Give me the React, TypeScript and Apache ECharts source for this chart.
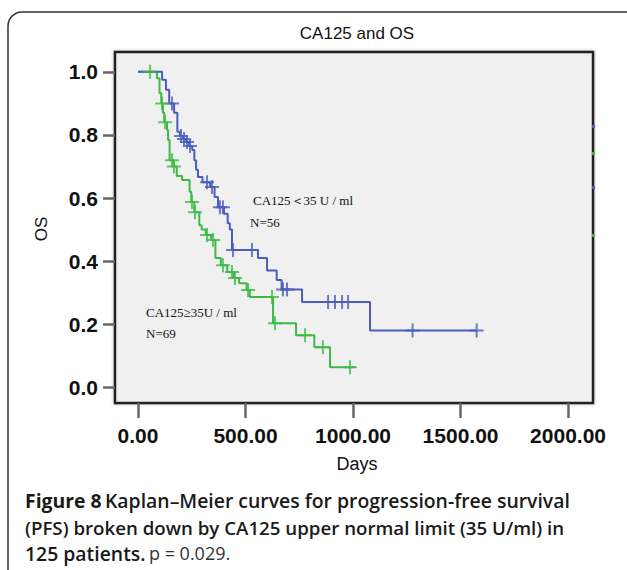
import React, { useEffect, useRef } from "react";
import * as echarts from "echarts";

// Kaplan–Meier step data: time (days) at which survival changes, and survival after the step
const blueT = [0, 112, 130, 145, 168, 183, 195, 210, 224, 238, 252, 262, 270, 279, 300, 335, 356, 372, 400, 417, 427, 437, 558, 600, 645, 668, 763, 1079, 1575];
const blueS = [1, 0.975, 0.943, 0.9, 0.87, 0.81, 0.797, 0.787, 0.778, 0.765, 0.752, 0.72, 0.69, 0.667, 0.65, 0.635, 0.603, 0.571, 0.55, 0.52, 0.5, 0.435, 0.41, 0.37, 0.34, 0.31, 0.27, 0.18, 0.18];
const blueCensorT = [158, 200, 214, 228, 242, 321, 344, 381, 395, 442, 530, 674, 693, 884, 916, 949, 977, 1277, 1575];

const greenT = [0, 88, 100, 108, 116, 122, 135, 140, 147, 165, 180, 205, 240, 248, 262, 285, 296, 315, 340, 360, 385, 415, 445, 470, 505, 520, 628, 735, 820, 893, 1009];
const greenS = [1, 0.98, 0.933, 0.9, 0.87, 0.84, 0.816, 0.784, 0.72, 0.7, 0.67, 0.657, 0.62, 0.587, 0.555, 0.514, 0.5, 0.483, 0.467, 0.41, 0.387, 0.365, 0.346, 0.33, 0.308, 0.286, 0.203, 0.165, 0.127, 0.063, 0.063];
const greenCensorT = [56, 112, 126, 158, 167, 251, 265, 321, 349, 395, 437, 451, 512, 623, 637, 777, 860, 986];

const seriesNames = ["CA125＜35 U / ml", "CA125≥35U / ml"];
const groupN = ["N=56", "N=69"];
const xTicks = [0, 500, 1000, 1500, 2000];
const yTicks = [0, 0.2, 0.4, 0.6, 0.8, 1.0];
const xRange = [-107, 2116];
const yRange = [-0.05, 1.063];

const BLUE = "#4a5cbd";
const GREEN = "#3dba45";
const CROSS = "path://M0,6H14V8H0Z M6,0H8V14H6Z";

function survivalAt(ts: number[], ss: number[], t: number) {
  let s = ss[0];
  for (let i = 0; i < ts.length; i++) if (ts[i] <= t) s = ss[i];
  return s;
}

export default function App() {
  const ref = useRef<HTMLDivElement>(null);
  useEffect(() => {
    const chart = echarts.init(ref.current!, null, { renderer: "svg" });
    const blueLine = blueT.map((t, i) => [t, blueS[i]]);
    const greenLine = greenT.map((t, i) => [t, greenS[i]]);
    const blueC = blueCensorT.map((t) => [t, survivalAt(blueT, blueS, t)]);
    const greenC = greenCensorT.map((t) => [t, survivalAt(greenT, greenS, t)]);
    const sans = "Liberation Sans, Arial, sans-serif";
    const serif = "Liberation Serif, Times New Roman, serif";
    const cap = "Open Sans, sans-serif";
    const capBold = { fontFamily: cap, fontSize: 19.4, fontWeight: 700, fill: "#1a1a1a" };
    const capSemi = { fontFamily: cap, fontSize: 19.4, fontWeight: 600, fill: "#1a1a1a" };
    const capSemi2 = { fontFamily: cap, fontSize: 18.7, fontWeight: 600, fill: "#1a1a1a" };
    chart.setOption({
      animation: false,
      backgroundColor: "#ffffff",
      grid: {
        left: 115,
        top: 52,
        width: 478,
        height: 351,
        containLabel: false,
        show: true,
        backgroundColor: "#f0f0f0",
        borderColor: "#222",
        borderWidth: 2.5,
        shadowBlur: 3,
        shadowColor: "rgba(0,0,0,0.35)",
      },
      xAxis: {
        type: "value",
        min: xRange[0],
        max: xRange[1],
        position: "bottom",
        axisLine: { show: false, onZero: false },
        splitLine: { show: false },
        axisTick: { show: true, length: 15, customValues: xTicks, lineStyle: { color: "#666", width: 2.5 } },
        axisLabel: {
          margin: 22,
          customValues: xTicks,
          fontFamily: sans,
          fontWeight: "bold",
          fontSize: 21,
          color: "#111",
          formatter: (v: number) => v.toFixed(2),
        },
      },
      yAxis: {
        type: "value",
        min: yRange[0],
        max: yRange[1],
        position: "left",
        axisLine: { show: false, onZero: false },
        splitLine: { show: false },
        axisTick: { show: true, length: 12, customValues: yTicks, lineStyle: { color: "#666", width: 2.5 } },
        axisLabel: {
          margin: 17,
          customValues: yTicks,
          fontFamily: sans,
          fontWeight: "bold",
          fontSize: 21,
          color: "#111",
          formatter: (v: number) => v.toFixed(1),
        },
      },
      series: [
        {
          name: seriesNames[0],
          type: "line",
          step: "end",
          data: blueLine,
          showSymbol: false,
          clip: false,
          lineStyle: { color: BLUE, width: 2 },
          z: 5,
        },
        {
          name: seriesNames[1],
          type: "line",
          step: "end",
          data: greenLine,
          showSymbol: false,
          clip: false,
          lineStyle: { color: GREEN, width: 2 },
          z: 4,
        },
        {
          type: "scatter",
          data: blueC,
          symbol: CROSS,
          symbolSize: [14, 14],
          clip: false,
          itemStyle: { color: BLUE },
          z: 6,
        },
        {
          type: "scatter",
          data: greenC,
          symbol: CROSS,
          symbolSize: [14, 14],
          clip: false,
          itemStyle: { color: GREEN },
          z: 6,
        },
      ],
      graphic: [
        {
          type: "rect",
          z: -10,
          shape: { x: 8, y: 12, width: 640, height: 620, r: 14 },
          style: { fill: "none", stroke: "#333", lineWidth: 1.5 },
        },
        { type: "rect", z: 10, shape: { x: 592, y: 125, width: 3, height: 3 }, style: { fill: BLUE } },
        { type: "rect", z: 10, shape: { x: 592, y: 152, width: 3, height: 3 }, style: { fill: GREEN } },
        { type: "rect", z: 10, shape: { x: 592, y: 186, width: 3, height: 3 }, style: { fill: BLUE } },
        { type: "rect", z: 10, shape: { x: 592, y: 234, width: 3, height: 3 }, style: { fill: GREEN } },
        {
          type: "text",
          z: 10,
          style: { text: "CA125 and OS", x: 357, y: 33, align: "center", verticalAlign: "middle", fontFamily: sans, fontSize: 17, fill: "#111" },
        },
        {
          type: "text",
          z: 10,
          x: 41,
          y: 229,
          rotation: Math.PI / 2,
          style: { text: "OS", x: 0, y: 0, align: "center", verticalAlign: "middle", fontFamily: sans, fontSize: 17, fill: "#111" },
        },
        {
          type: "text",
          z: 10,
          style: { text: "Days", x: 357, y: 464, align: "center", verticalAlign: "middle", fontFamily: sans, fontSize: 18, fill: "#111" },
        },
        {
          type: "text",
          z: 10,
          style: { text: seriesNames[0], x: 253, y: 200, align: "left", verticalAlign: "middle", fontFamily: serif, fontSize: 13, fill: "#111" },
        },
        {
          type: "text",
          z: 10,
          style: { text: groupN[0], x: 250, y: 222, align: "left", verticalAlign: "middle", fontFamily: serif, fontSize: 13, fill: "#111" },
        },
        {
          type: "text",
          z: 10,
          style: { text: seriesNames[1], x: 146, y: 312, align: "left", verticalAlign: "middle", fontFamily: serif, fontSize: 13, fill: "#111" },
        },
        {
          type: "text",
          z: 10,
          style: { text: groupN[1], x: 146, y: 333, align: "left", verticalAlign: "middle", fontFamily: serif, fontSize: 13, fill: "#111" },
        },
        {
          type: "text",
          z: 10,
          style: {
            text: "{b|Figure 8} {s|Kaplan–Meier curves for progression-free survival}",
            x: 25,
            y: 500,
            verticalAlign: "middle",
            rich: { b: capBold, s: capSemi },
          },
        },
        {
          type: "text",
          z: 10,
          style: {
            text: "{s|(PFS) broken down by CA125 upper normal limit (35 U/ml) in}",
            x: 25,
            y: 527,
            verticalAlign: "middle",
            rich: { s: capSemi2 },
          },
        },
        {
          type: "text",
          z: 10,
          style: {
            text: "{s|125 patients.} {r|p = 0.029.}",
            x: 25,
            y: 553,
            verticalAlign: "middle",
            rich: {
              s: capSemi,
              r: { fontFamily: cap, fontSize: 18, fontWeight: 400, fill: "#333" },
            },
          },
        },
      ],
    });
    return () => chart.dispose();
  }, []);
  return <div ref={ref} style={{ position: "fixed", left: 0, top: 0, width: 627, height: 570 }} />;
}
